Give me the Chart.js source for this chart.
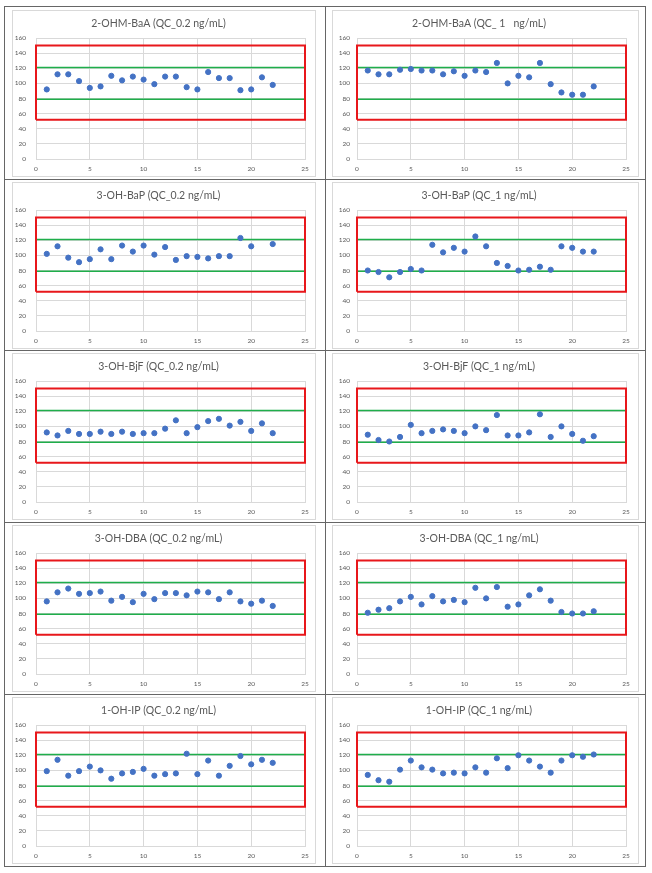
<!DOCTYPE html>
<html>
<head>
<meta charset="utf-8">
<script src="https://cdn.jsdelivr.net/npm/chart.js@4.4.0/dist/chart.umd.min.js"></script>
<style>
body { margin: 0; background: #fff; width: 652px; height: 873px; position: relative; overflow: hidden; }
.cell { position: absolute; border: 1px solid #666; box-sizing: border-box; }
.box { position: absolute; border: 1px solid #d9d9d9; box-sizing: border-box; background: #fff; }
canvas { position: absolute; }
</style>
</head>
<body>
<script>
// QC runs (x) and axis ticks
const runs = [1, 2, 3, 4, 5, 6, 7, 8, 9, 10, 11, 12, 13, 14, 15, 16, 17, 18, 19, 20, 21, 22];
const xTicks = [0, 5, 10, 15, 20, 25];
const yTicks = [0, 20, 40, 60, 80, 100, 120, 140, 160];

// control limits (green) and acceptance range (red box), % recovery
const upperLimit = 121;
const lowerLimit = 79;
const rangeTop = 150;
const rangeBottom = 52;

const titles = [
    '2-OHM-BaA (QC_0.2 ng/mL)', '2-OHM-BaA (QC_ 1   ng/mL)',
    '3-OH-BaP (QC_0.2 ng/mL)', '3-OH-BaP (QC_1 ng/mL)',
    '3-OH-BjF (QC_0.2 ng/mL)', '3-OH-BjF (QC_1 ng/mL)',
    '3-OH-DBA (QC_0.2 ng/mL)', '3-OH-DBA (QC_1 ng/mL)',
    '1-OH-IP (QC_0.2 ng/mL)', '1-OH-IP (QC_1 ng/mL)'
];

const ohmBaA_02 = [92, 112, 112, 103, 94, 96, 110, 104, 109, 105, 99, 109, 109, 95, 92, 115, 107, 107, 91, 92, 108, 98];
const ohmBaA_1 = [117, 112, 112, 118, 119, 117, 117, 112, 116, 110, 117, 115, 127, 100, 110, 108, 127, 99, 88, 85, 85, 96];
const ohBaP_02 = [102, 112, 97, 91, 95, 108, 95, 113, 105, 113, 101, 111, 94, 99, 98, 96, 99, 99, 123, 112, null, 115];
const ohBaP_1 = [80, 78, 71, 78, 82, 80, 114, 104, 110, 105, 125, 112, 90, 86, 80, 81, 85, 81, 112, 110, 105, 105];
const ohBjF_02 = [92, 88, 94, 90, 90, 93, 90, 93, 90, 91, 91, 97, 108, 91, 99, 107, 110, 101, 106, 94, 104, 91];
const ohBjF_1 = [89, 82, 80, 86, 102, 91, 94, 96, 94, 91, 100, 95, 115, 88, 88, 92, 116, 86, 100, 90, 81, 87];
const ohDBA_02 = [96, 108, 113, 106, 107, 109, 97, 102, 95, 106, 99, 107, 107, 104, 109, 108, 99, 108, 96, 93, 97, 90];
const ohDBA_1 = [81, 85, 87, 96, 102, 92, 103, 96, 98, 95, 114, 100, 115, 89, 92, 104, 112, 97, 82, 80, 80, 83];
const ohIP_02 = [99, 114, 93, 99, 105, 100, 89, 96, 98, 102, 93, 95, 96, 122, 95, 113, 93, 106, 119, 108, 114, 110];
const ohIP_1 = [94, 87, 85, 101, 113, 104, 101, 96, 97, 96, 104, 97, 116, 103, 120, 113, 105, 97, 113, 120, 118, 121];

const series = [ohmBaA_02, ohmBaA_1, ohBaP_02, ohBaP_1, ohBjF_02, ohBjF_1, ohDBA_02, ohDBA_1, ohIP_02, ohIP_1];

// page layout
const cellX = [4, 325, 645];
const cellY = [6, 179, 350, 522, 694, 866];
const boxLeft = [12, 332];
const boxWidth = [304, 307];
const boxTop = [10, 182, 353, 525, 697];
const boxHeight = 167;
const axisWidth = [24, 25];
const labelGap = [10, 7];
const padRight = [11, 13];

const textColor = '#595959';
const gridColor = '#d9d9d9';
const pointColor = '#4472c4';
const red = '#e8171b';
const green = '#1fae4b';

titles.forEach((title, i) => {
    const c = i % 2, r = Math.floor(i / 2);

    const cell = document.createElement('div');
    cell.className = 'cell';
    cell.style.left = cellX[c] + 'px';
    cell.style.top = cellY[r] + 'px';
    cell.style.width = (cellX[c + 1] - cellX[c] + 1) + 'px';
    cell.style.height = (cellY[r + 1] - cellY[r] + 1) + 'px';
    document.body.appendChild(cell);

    const box = document.createElement('div');
    box.className = 'box';
    box.style.left = boxLeft[c] + 'px';
    box.style.top = boxTop[r] + 'px';
    box.style.width = boxWidth[c] + 'px';
    box.style.height = boxHeight + 'px';
    document.body.appendChild(box);

    const cv = document.createElement('canvas');
    cv.width = boxWidth[c];
    cv.height = boxHeight;
    cv.style.left = boxLeft[c] + 'px';
    cv.style.top = boxTop[r] + 'px';
    document.body.appendChild(cv);

    const xMin = xTicks[0], xMax = xTicks[xTicks.length - 1];
    const points = runs.map((x, k) => ({ x: x, y: series[i][k] })).filter(p => p.y !== null);

    new Chart(cv.getContext('2d'), {
        type: 'scatter',
        data: {
            datasets: [{
                data: points,
                backgroundColor: pointColor,
                borderColor: pointColor,
                pointRadius: 2.6,
                pointHoverRadius: 2.6
            }, {
                type: 'line',
                data: [
                    { x: xMin, y: rangeBottom }, { x: xMax, y: rangeBottom },
                    { x: xMax, y: rangeTop }, { x: xMin, y: rangeTop }, { x: xMin, y: rangeBottom }
                ],
                borderColor: red,
                borderWidth: 2,
                pointRadius: 0,
                fill: false,
                clip: 4
            }, {
                type: 'line',
                data: [{ x: xMin, y: upperLimit }, { x: xMax, y: upperLimit }],
                borderColor: green,
                borderWidth: 1.6,
                pointRadius: 0,
                fill: false
            }, {
                type: 'line',
                data: [{ x: xMin, y: lowerLimit }, { x: xMax, y: lowerLimit }],
                borderColor: green,
                borderWidth: 1.6,
                pointRadius: 0,
                fill: false
            }]
        },
        options: {
            responsive: false,
            animation: false,
            events: [],
            layout: { padding: { left: 0, right: padRight[c], top: 0, bottom: 0 } },
            plugins: {
                legend: { display: false },
                tooltip: { enabled: false },
                title: {
                    display: true,
                    text: title,
                    color: textColor,
                    font: { family: 'Lato', size: 10.5, weight: 'normal' },
                    padding: { top: 7, bottom: 8.4 }
                }
            },
            scales: {
                x: {
                    type: 'linear',
                    min: xMin,
                    max: xMax,
                    afterBuildTicks: s => { s.ticks = xTicks.map(v => ({ value: v })); },
                    afterFit: s => { s.height = 18; },
                    grid: { color: gridColor, drawTicks: false },
                    border: { color: gridColor },
                    ticks: { padding: 6, color: textColor, font: { family: 'Lato', size: 6.5 } }
                },
                y: {
                    min: yTicks[0],
                    max: yTicks[yTicks.length - 1],
                    afterBuildTicks: s => { s.ticks = yTicks.map(v => ({ value: v })); },
                    afterFit: s => { s.width = axisWidth[c]; },
                    grid: { color: gridColor, drawTicks: false },
                    border: { display: false },
                    ticks: { padding: labelGap[c], color: textColor, font: { family: 'Lato', size: 6.5 } }
                }
            }
        }
    });
});
</script>
</body>
</html>
